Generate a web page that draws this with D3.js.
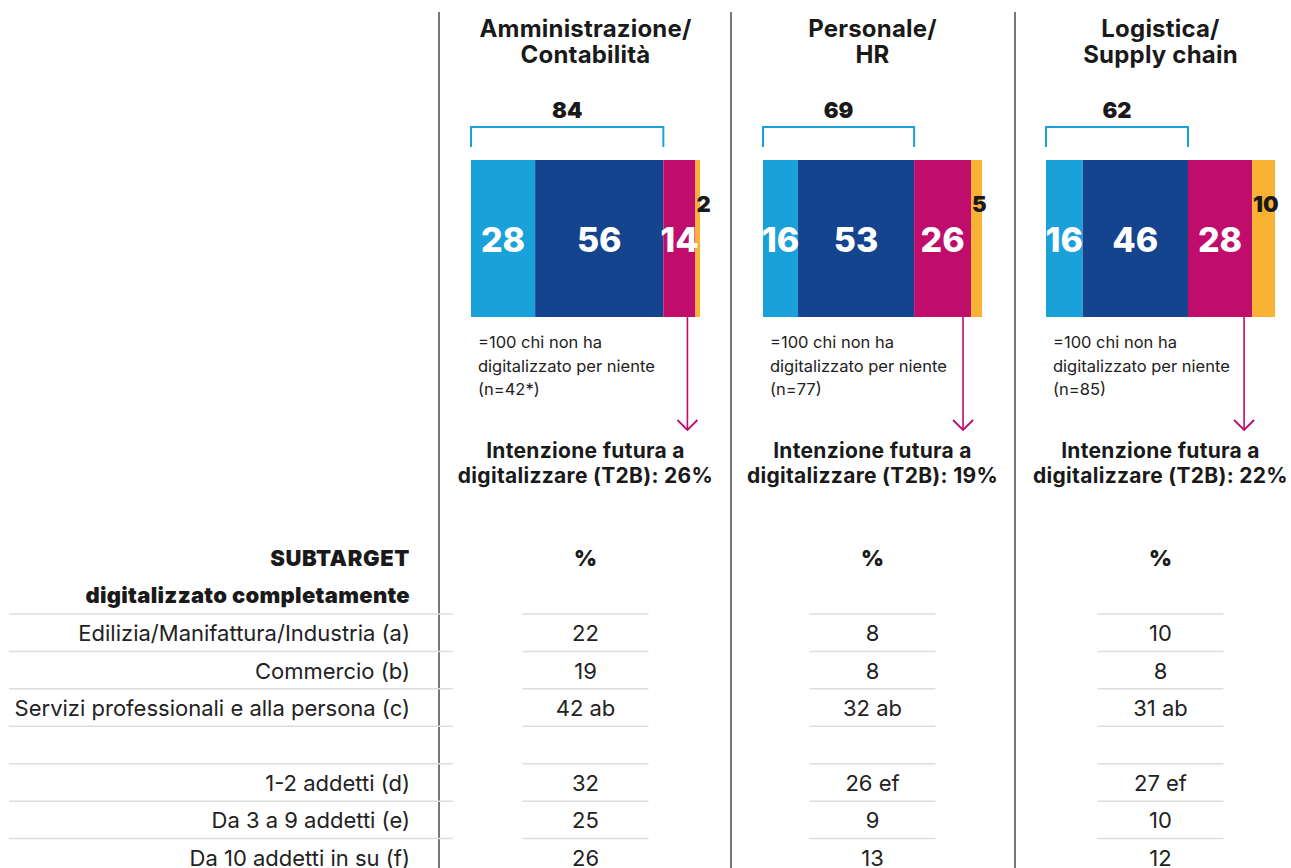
<!DOCTYPE html>
<html>
<head>
<meta charset="utf-8">
<script src="https://cdn.jsdelivr.net/npm/d3@7"></script>
<style>
  body { margin: 0; background: #fff; }
  svg text { font-family: Inter, "Open Sans", sans-serif; fill: #1a1a1a; }
</style>
</head>
<body>
<div id="chart"></div>
<script>
// Data
const titles = [['Amministrazione/', 'Contabilità'], ['Personale/', 'HR'], ['Logistica/', 'Supply chain']];
const segments = ['completamente', 'parzialmente', 'per niente', 'non sa'];
const shares = [[28, 56, 14, 2], [16, 53, 26, 5], [16, 46, 28, 10]];
const bracketTotals = [84, 69, 62];
const baseNotes = ['(n=42*)', '(n=77)', '(n=85)'];
const intention = [26, 19, 22];
const rowLabels = ['Edilizia/Manifattura/Industria (a)', 'Commercio (b)', 'Servizi professionali e alla persona (c)', '',
  '1-2 addetti (d)', 'Da 3 a 9 addetti (e)', 'Da 10 addetti in su (f)'];
const rowValues = [
  ['22', '19', '42 ab', '', '32', '25', '26'],
  ['8', '8', '32 ab', '', '26 ef', '9', '13'],
  ['10', '8', '31 ab', '', '27 ef', '10', '12']
];

const colors = ['#1ba1da', '#15448f', '#c00c6a', '#f9b233'];

const width = 1291, height = 868;
const panelCx = [585.5, 872.5, 1160.5];
const barW = [229, 219, 229];
const dividers = [439, 731, 1015];
const barTop = 160, barBottom = 317;

const svg = d3.select('#chart').append('svg')
  .attr('width', width)
  .attr('height', height);

// vertical dividers
svg.selectAll('line.div')
  .data(dividers)
  .enter().append('line')
  .attr('x1', d => d).attr('x2', d => d)
  .attr('y1', 12).attr('y2', height)
  .style('stroke', '#555').style('stroke-width', 1.6);

const color = d3.scaleOrdinal().domain(segments).range(colors);

panelCx.forEach((cx, p) => {
  const x = d3.scaleLinear().domain([0, 100]).range([cx - barW[p] / 2, cx + barW[p] / 2]);
  const g = svg.append('g');

  // title
  g.append('text')
    .attr('x', cx).attr('y', 37)
    .style('text-anchor', 'middle')
    .style('font-size', '24px').style('font-weight', 700)
    .style('letter-spacing', '0.2px')
    .selectAll('tspan').data(titles[p]).enter().append('tspan')
    .attr('x', cx).attr('dy', (d, i) => i ? 26 : 0)
    .text(d => d);

  // stacked bar
  const stack = [];
  let acc = 0;
  shares[p].forEach((v, i) => { stack.push({ key: segments[i], v: v, x0: acc, x1: acc + v }); acc += v; });

  g.selectAll('rect').data(stack).enter().append('rect')
    .attr('x', d => x(d.x0))
    .attr('width', d => x(d.x1) - x(d.x0))
    .attr('y', barTop).attr('height', barBottom - barTop)
    .style('fill', d => color(d.key));

  g.selectAll('text.val').data(stack.slice(0, 3)).enter().append('text')
    .attr('class', 'val')
    .attr('x', d => (x(d.x0) + x(d.x1)) / 2)
    .attr('y', 252)
    .style('text-anchor', 'middle')
    .style('font-size', '34px').style('font-weight', 800)
    .style('fill', '#fff')
    .text(d => d.v);

  const last = stack[3];
  g.append('text')
    .attr('x', x(last.x0) + 1).attr('y', 212)
    .style('font-size', '22px').style('font-weight', 900)
    .text(last.v);

  // bracket over first two segments
  const bx0 = x(0), bx1 = x(bracketTotals[p]);
  g.append('path')
    .attr('d', `M${bx0},147V127H${bx1}V147`)
    .style('fill', 'none').style('stroke', colors[0]).style('stroke-width', 2);
  g.append('text')
    .attr('x', (bx0 + bx1) / 2).attr('y', 118)
    .style('text-anchor', 'middle')
    .style('font-size', '22px').style('font-weight', 900)
    .text(bracketTotals[p]);

  // note
  g.append('text')
    .attr('x', x(0) + 7).attr('y', 348)
    .style('font-size', '16.5px')
    .style('fill', '#222')
    .selectAll('tspan').data(['=100 chi non ha', 'digitalizzato per niente', baseNotes[p]])
    .enter().append('tspan')
    .attr('x', x(0) + 7).attr('dy', (d, i) => i ? 23.5 : 0)
    .text(d => d);

  // arrow
  const ax = x(stack[2].x1) - 8;
  g.append('line')
    .attr('x1', ax).attr('x2', ax).attr('y1', barBottom).attr('y2', 430)
    .style('stroke', colors[2]).style('stroke-width', 1.6);
  g.append('path')
    .attr('d', `M${ax - 10},420L${ax},430L${ax + 10},420`)
    .style('fill', 'none').style('stroke', colors[2]).style('stroke-width', 1.8);

  g.append('text')
    .attr('x', cx).attr('y', 458)
    .style('text-anchor', 'middle')
    .style('font-size', '21px').style('font-weight', 700)
    .style('letter-spacing', '0.3px')
    .selectAll('tspan').data(['Intenzione futura a', `digitalizzare (T2B): ${intention[p]}%`])
    .enter().append('tspan')
    .attr('x', cx).attr('dy', (d, i) => i ? 25 : 0)
    .text(d => d);

  // table column
  g.append('text')
    .attr('x', cx).attr('y', 566)
    .style('text-anchor', 'middle')
    .style('font-size', '22px').style('font-weight', 900)
    .text('%');
});

// table
const rowY = d3.scaleBand().domain(d3.range(rowLabels.length)).range([614, 876]);

svg.append('text')
  .attr('x', 410).attr('y', 566)
  .style('text-anchor', 'end')
  .style('font-size', '22px').style('font-weight', 900)
  .style('letter-spacing', '0.6px')
  .text('SUBTARGET');
svg.append('text')
  .attr('x', 410).attr('y', 603)
  .style('text-anchor', 'end')
  .style('font-size', '22px').style('font-weight', 900)
  .style('letter-spacing', '0.3px')
  .text('digitalizzato completamente');

svg.selectAll('line.rowlab').data(rowLabels).enter().append('line')
  .attr('x1', 9).attr('x2', 453)
  .attr('y1', (d, i) => rowY(i)).attr('y2', (d, i) => rowY(i))
  .style('stroke', '#ddd').style('stroke-width', 1.5);

svg.selectAll('text.rowlab').data(rowLabels).enter().append('text')
  .attr('x', 410)
  .attr('y', (d, i) => rowY(i) + rowY.bandwidth() / 2 + 8.5)
  .style('text-anchor', 'end')
  .style('font-size', '22px')
  .style('fill', '#222')
  .text(d => d);

rowValues.forEach((vals, p) => {
  const cx = panelCx[p];
  svg.selectAll(null).data(vals).enter().append('line')
    .attr('x1', cx - 63).attr('x2', cx + 63)
    .attr('y1', (d, i) => rowY(i)).attr('y2', (d, i) => rowY(i))
    .style('stroke', '#ddd').style('stroke-width', 1.5);
  svg.selectAll(null).data(vals).enter().append('text')
    .attr('x', cx)
    .attr('y', (d, i) => rowY(i) + rowY.bandwidth() / 2 + 8.5)
    .style('text-anchor', 'middle')
    .style('font-size', '22px')
    .style('fill', '#222')
    .text(d => d);
});
</script>
</body>
</html>
